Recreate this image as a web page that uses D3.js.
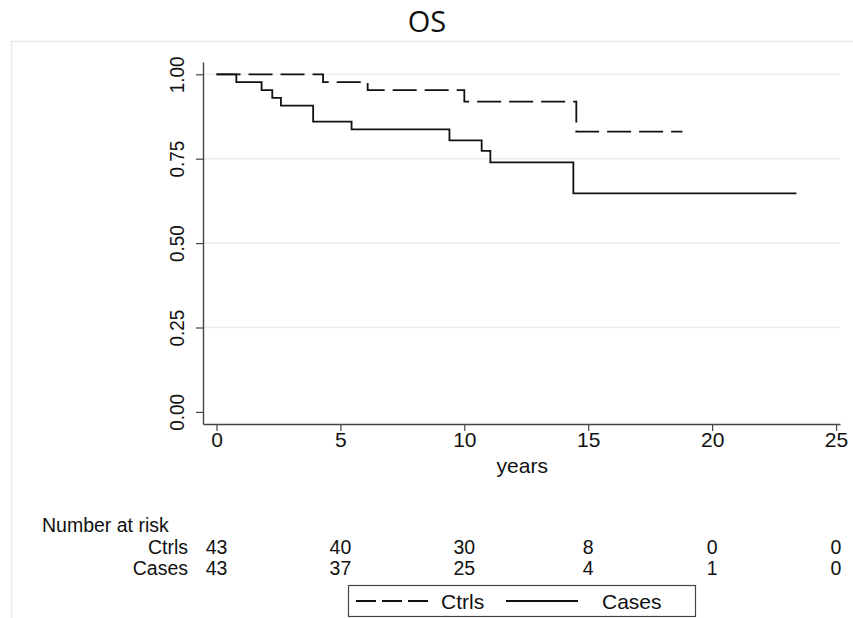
<!DOCTYPE html>
<html>
<head>
<meta charset="utf-8">
<script src="https://cdn.jsdelivr.net/npm/d3@7/dist/d3.min.js"></script>
<style>
  html, body { margin: 0; padding: 0; background: #fff; }
  svg { display: block; }
  text { font-family: "Liberation Sans", Arial, sans-serif; fill: #111; }
</style>
</head>
<body>
<script>
// Kaplan-Meier step data: event times (years) and survival after each step
const ctrlsTimes = [0, 4.3, 6.1, 10.0, 14.52, 18.8];
const ctrlsSurv  = [1.0, 0.977, 0.953, 0.919, 0.830, 0.830];
const casesTimes = [0, 0.8, 1.82, 2.25, 2.6, 3.9, 5.45, 9.4, 10.7, 11.05, 14.4, 23.4];
const casesSurv  = [1.0, 0.977, 0.953, 0.930, 0.907, 0.860, 0.837, 0.804, 0.773, 0.739, 0.647, 0.647];

const xTicks = [0, 5, 10, 15, 20, 25];
const yTicks = [0, 0.25, 0.5, 0.75, 1.0];
const gridValues = [0.25, 0.5, 0.75, 1.0];

const riskGroups = ["Ctrls", "Cases"];
const riskCtrls = [43, 40, 30, 8, 0, 0];
const riskCases = [43, 37, 25, 4, 1, 0];

const W = 853, H = 618;
const FS = "21px";
const TFS = "19.5px";
const svg = d3.select("body").append("svg").attr("width", W).attr("height", H);

// outer frame (only top and left edges fall inside the canvas)
svg.append("path")
  .attr("d", "M11.5,618 V41.5 H853")
  .attr("fill", "none").attr("stroke", "#e9e9e9").attr("stroke-width", 1.5);

// title
svg.append("text")
  .attr("x", 427).attr("y", 32)
  .attr("text-anchor", "middle")
  .style("font-family", "'Open Sans', sans-serif")
  .style("font-size", "29px")
  .style("font-weight", 500)
  .text("OS");

const x = d3.scaleLinear().domain([-0.545, 25.16]).range([203, 840]);
const y = d3.scaleLinear().domain([-0.0358, 1.0364]).range([424, 62]);

// horizontal grid lines
svg.append("g").selectAll("line").data(gridValues).join("line")
  .attr("x1", 203).attr("x2", 840)
  .attr("y1", d => y(d)).attr("y2", d => y(d))
  .attr("stroke", "#e5eef0").attr("stroke-width", 1.6);

// axes
const yAxis = svg.append("g").attr("transform", "translate(203,0)")
  .call(d3.axisLeft(y).tickValues(yTicks).tickFormat(d3.format(".2f")).tickSize(7).tickSizeOuter(0));
const xAxis = svg.append("g").attr("transform", "translate(0,424)")
  .call(d3.axisBottom(x).tickValues(xTicks).tickFormat(d3.format("d")).tickSize(7).tickSizeOuter(0));

[xAxis, yAxis].forEach(g => {
  g.select(".domain").attr("stroke", "#444").attr("stroke-width", 1.4);
  g.selectAll(".tick line").attr("stroke", "#444").attr("stroke-width", 1.2);
  g.selectAll(".tick text").style("font-family", "'Liberation Sans', Arial, sans-serif")
    .style("font-size", FS).attr("fill", "#111");
});
xAxis.selectAll(".tick text").attr("dy", "0.71em").attr("y", 8);
yAxis.selectAll(".tick text")
  .attr("text-anchor", "middle")
  .attr("x", 0).attr("dy", 0)
  .attr("transform", "translate(-19,0) rotate(-90) scale(0.9,1)");

// x-axis title
svg.append("text").attr("x", x(12.5) - 4).attr("y", 473)
  .attr("text-anchor", "middle").style("font-size", FS).text("years");

// survival step curves
const line = d3.line().x(d => x(d[0])).y(d => y(d[1])).curve(d3.curveStepAfter);
svg.append("path")
  .datum(d3.zip(ctrlsTimes, ctrlsSurv))
  .attr("d", line).attr("fill", "none")
  .attr("stroke", "#111").attr("stroke-width", 1.8)
  .attr("stroke-dasharray", "24,8");
svg.append("path")
  .datum(d3.zip(casesTimes, casesSurv))
  .attr("d", line).attr("fill", "none")
  .attr("stroke", "#111").attr("stroke-width", 1.8);

// number-at-risk table
svg.append("text").attr("x", 42).attr("y", 532).style("font-size", TFS).text("Number at risk");
const rows = [riskCtrls, riskCases];
rows.forEach((vals, i) => {
  const yy = 553.5 + i * 21.5;
  svg.append("text").attr("x", 188).attr("y", yy).attr("text-anchor", "end")
    .style("font-size", TFS).text(riskGroups[i]);
  svg.append("g").selectAll("text").data(vals).join("text")
    .attr("x", (d, j) => x(xTicks[j])).attr("y", yy)
    .attr("text-anchor", "middle").style("font-size", TFS)
    .text(d => d);
});

// legend
const lg = svg.append("g");
lg.append("rect").attr("x", 348.5).attr("y", 585.5).attr("width", 347).attr("height", 31)
  .attr("fill", "#fff").attr("stroke", "#444").attr("stroke-width", 1.2);
lg.append("line").attr("x1", 356).attr("x2", 428).attr("y1", 601).attr("y2", 601)
  .attr("stroke", "#111").attr("stroke-width", 1.8).attr("stroke-dasharray", "20,6");
lg.append("text").attr("x", 441).attr("y", 608.5).style("font-size", FS).text("Ctrls");
lg.append("line").attr("x1", 506).attr("x2", 578).attr("y1", 601).attr("y2", 601)
  .attr("stroke", "#111").attr("stroke-width", 1.8);
lg.append("text").attr("x", 602).attr("y", 608.5).style("font-size", FS).text("Cases");
</script>
</body>
</html>
